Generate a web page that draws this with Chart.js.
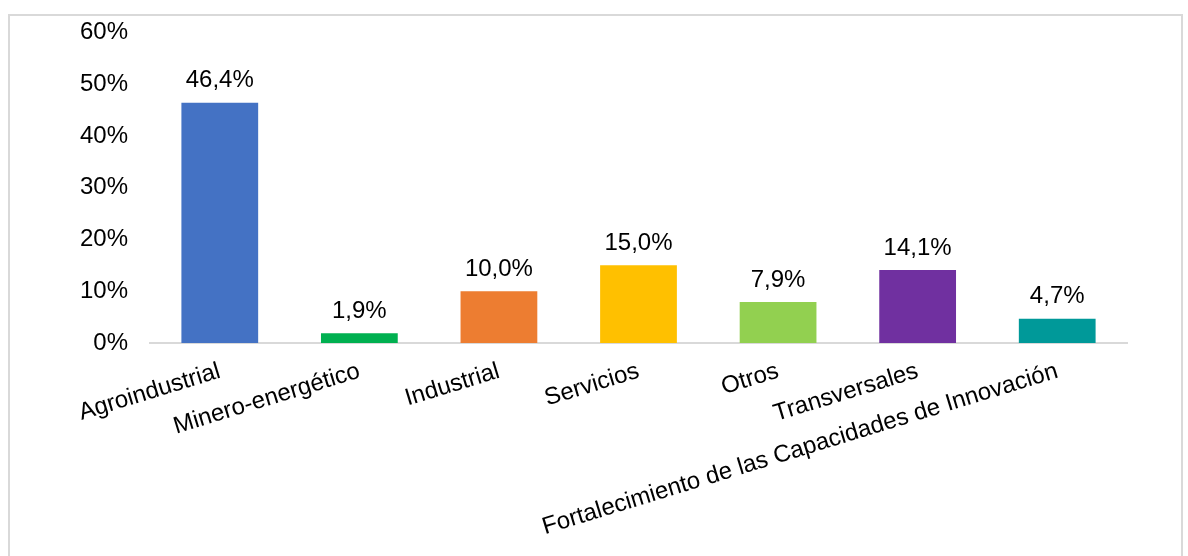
<!DOCTYPE html>
<html>
<head>
<meta charset="utf-8">
<script src="https://cdn.jsdelivr.net/npm/chart.js@4"></script>
<style>
  body { margin: 0; background: #fff; }
  #wrap {
    position: absolute; left: 8px; top: 14px;
    width: 1171px; height: 560px;
    border: 2px solid #d9d9d9; border-bottom: none;
  }
  #myChart { position: absolute; left: 0; top: -20px; }
</style>
</head>
<body>
<div id="wrap"><canvas id="myChart" width="1171" height="560"></canvas></div>
<script>
const categorias = [
  "Agroindustrial",
  "Minero-energético",
  "Industrial",
  "Servicios",
  "Otros",
  "Transversales",
  "Fortalecimiento de las Capacidades de Innovación",
];
const porcentajes = [46.4, 1.9, 10.0, 15.0, 7.9, 14.1, 4.7];
const colores = ["#4472c4", "#00b050", "#ed7d31", "#ffc000", "#92d050", "#7030a0", "#009999"];
const ejeY = [0, 10, 20, 30, 40, 50, 60];

const fuente = "'Liberation Sans', Arial, sans-serif";

const formato = (v) => v.toFixed(1).replace(".", ",") + "%";

// etiquetas encima de cada barra
const etiquetas = {
  id: "etiquetas",
  afterDatasetsDraw(chart) {
    const ctx = chart.ctx;
    const meta = chart.getDatasetMeta(0);
    ctx.save();
    ctx.font = "24px " + fuente;
    ctx.fillStyle = "#000";
    ctx.textAlign = "center";
    ctx.textBaseline = "bottom";
    meta.data.forEach((bar, i) => {
      ctx.fillText(formato(porcentajes[i]), bar.x, bar.y - 10);
    });
    ctx.restore();
  },
};

const element = document.getElementById("myChart");
new Chart(element, {
  type: "bar",
  data: {
    labels: categorias,
    datasets: [
      {
        data: porcentajes,
        backgroundColor: colores,
        barPercentage: 0.55,
        categoryPercentage: 1,
      },
    ],
  },
  options: {
    responsive: false,
    animation: false,
    layout: { padding: { top: 0, right: 54, left: 0, bottom: 0 } },
    plugins: { legend: { display: false }, tooltip: { enabled: false } },
    scales: {
      x: {
        grid: { display: false, drawTicks: false },
        border: { color: "#d9d9d9", width: 2 },
        ticks: {
          color: "#000",
          font: { family: fuente, size: 24 },
          minRotation: 17,
          maxRotation: 17,
          autoSkip: false,
          padding: 14,
        },
        afterFit(scale) {
          scale.height = 213;
        },
      },
      y: {
        min: 0,
        max: 60,
        afterBuildTicks(scale) {
          scale.ticks = ejeY.map((v) => ({ value: v }));
        },
        grid: { display: false, drawTicks: false },
        border: { display: false },
        ticks: {
          color: "#000",
          font: { family: fuente, size: 24 },
          padding: 22,
          callback: (v) => v + "%",
        },
        afterFit(scale) {
          scale.width = 140;
        },
      },
    },
  },
  plugins: [etiquetas],
});
</script>
</body>
</html>
